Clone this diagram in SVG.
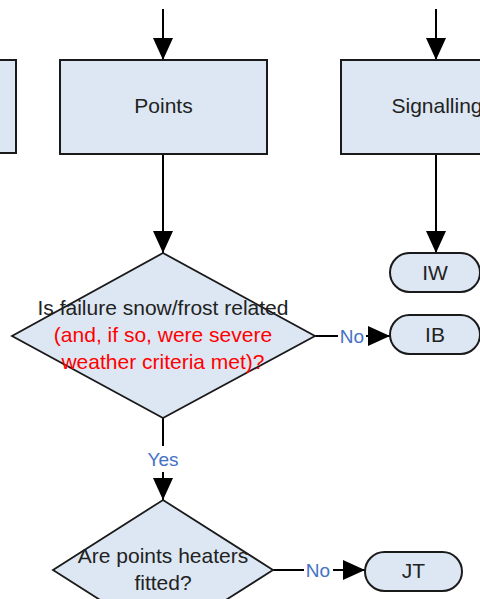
<svg xmlns="http://www.w3.org/2000/svg" width="480" height="599" viewBox="0 0 480 599">
  <style>
    .box { fill: #dde7f3; stroke: #1a1a1a; stroke-width: 2; }
    .dia { fill: #dde7f3; stroke: #1a1a1a; stroke-width: 1.8; }
    .conn { fill: none; stroke: #000; stroke-width: 2; }
    .t { font-family: "Liberation Sans", Arial, sans-serif; font-size: 21px; fill: #222; text-anchor: middle; }
    .red { fill: #ff0000; }
    .lbl { font-family: "Liberation Sans", Arial, sans-serif; font-size: 19px; fill: #4472c4; text-anchor: middle; }
  </style>
  <defs>
    <marker id="ah" markerUnits="userSpaceOnUse" markerWidth="22" markerHeight="22" viewBox="0 0 22 22" refX="22" refY="11" orient="auto">
      <path d="M0,1 L22,11 L0,21 Z" fill="#000"/>
    </marker>
  </defs>
  <rect width="480" height="599" fill="#fff"/>

  <g id="connectors">
    <line class="conn" x1="163" y1="9" x2="163" y2="60" marker-end="url(#ah)"/>
    <line class="conn" x1="436" y1="9" x2="436" y2="60" marker-end="url(#ah)"/>
    <line class="conn" x1="163" y1="154" x2="163" y2="253" marker-end="url(#ah)"/>
    <line class="conn" x1="436" y1="154" x2="436" y2="253" marker-end="url(#ah)"/>
    <line class="conn" x1="315" y1="336" x2="390" y2="336" marker-end="url(#ah)"/>
    <line class="conn" x1="163" y1="418" x2="163" y2="500" marker-end="url(#ah)"/>
    <line class="conn" x1="273" y1="570" x2="365" y2="570" marker-end="url(#ah)"/>
    <rect x="338" y="324" width="28" height="22" fill="#fff"/>
    <text class="lbl" x="352" y="343">No</text>
    <rect x="146" y="446" width="34" height="26" fill="#fff"/>
    <text class="lbl" x="163" y="466">Yes</text>
    <rect x="304" y="558" width="29" height="22" fill="#fff"/>
    <text class="lbl" x="318" y="577">No</text>
  </g>

  <g id="left-box">
    <rect class="box" x="-100" y="60" width="116" height="93"/>
  </g>

  <g id="points">
    <rect class="box" x="60" y="60" width="207" height="94"/>
    <text class="t" x="163.5" y="113">Points</text>
  </g>

  <g id="signalling">
    <rect class="box" x="341" y="60" width="207" height="94"/>
    <text class="t" x="437" y="113">Signalling</text>
  </g>

  <g id="iw">
    <rect class="box" x="390" y="253" width="90" height="39" rx="19.5"/>
    <text class="t" x="435" y="280">IW</text>
  </g>

  <g id="ib">
    <rect class="box" x="390" y="315" width="90" height="39" rx="19.5"/>
    <text class="t" x="435" y="342">IB</text>
  </g>

  <g id="decision1">
    <polygon class="dia" points="163,253 315,336 163,418 12,336"/>
    <text class="t" x="163" y="315">Is failure snow/frost related</text>
    <text class="t red" x="163" y="342">(and, if so, were severe</text>
    <text class="t red" x="163" y="369">weather criteria met)?</text>
  </g>

  <g id="decision2">
    <polygon class="dia" points="163,500 273,570 163,640 53,570"/>
    <text class="t" x="163" y="563">Are points heaters</text>
    <text class="t" x="163" y="590">fitted?</text>
  </g>

  <g id="jt">
    <rect class="box" x="365" y="552" width="97" height="39" rx="19.5"/>
    <text class="t" x="413.5" y="578">JT</text>
  </g>
</svg>
